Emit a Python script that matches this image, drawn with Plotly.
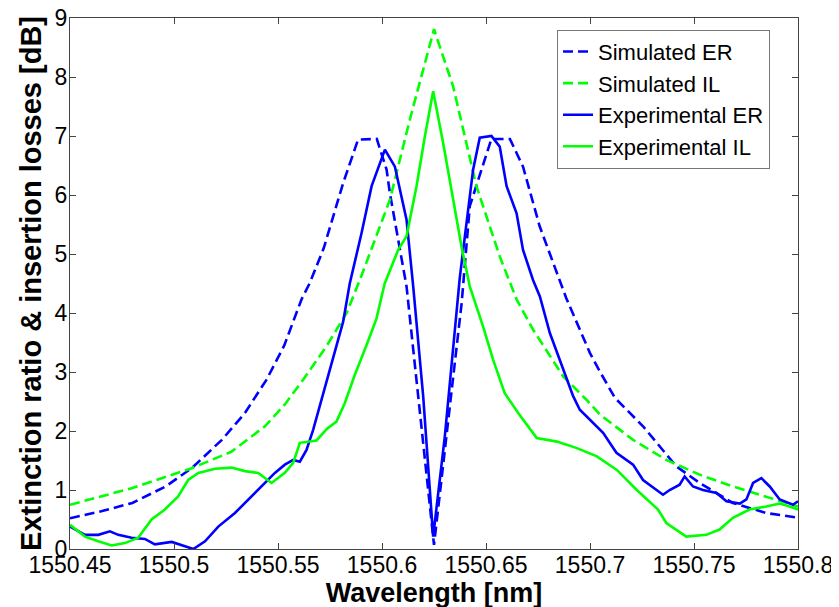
import plotly.graph_objects as go

# ---- Data (wavelength in nm, value in dB) ----
sim_er_x = [1550.450, 1550.465, 1550.480, 1550.496, 1550.5085, 1550.523, 1550.534, 1550.5445,
            1550.553, 1550.5613, 1550.5653, 1550.572, 1550.5813, 1550.5885, 1550.5975, 1550.6022,
            1550.6038, 1550.6118, 1550.625, 1550.6383, 1550.6422, 1550.647, 1550.6526, 1550.6615,
            1550.6678, 1550.6758, 1550.6886, 1550.700, 1550.7047, 1550.712, 1550.7255, 1550.7415,
            1550.7527, 1550.7687, 1550.7847, 1550.800]
sim_er_y = [0.52, 0.64, 0.78, 1.06, 1.37, 1.85, 2.30, 2.87,
            3.45, 4.23, 4.51, 5.10, 6.20, 6.94, 6.95, 6.43,
            6.03, 4.45, 0.07, 4.17, 5.81, 6.32, 6.95, 6.95,
            6.48, 5.47, 4.25, 3.32, 3.01, 2.56, 2.08, 1.40,
            1.12, 0.78, 0.61, 0.53]

sim_il_x = [1550.450, 1550.4796, 1550.5085, 1550.5277, 1550.5437, 1550.5533, 1550.5621, 1550.573,
            1550.583, 1550.5877, 1550.590, 1550.6038, 1550.6134, 1550.625, 1550.6342, 1550.6454,
            1550.6566, 1550.6647, 1550.6726, 1550.687, 1550.6983, 1550.7047, 1550.7207, 1550.7367,
            1550.7527, 1550.7687, 1550.7847, 1550.800]
sim_il_y = [0.75, 1.03, 1.37, 1.65, 2.08, 2.45, 2.87, 3.42,
            4.00, 4.40, 4.62, 5.92, 7.28, 8.81, 7.84, 6.15,
            4.96, 4.23, 3.72, 2.93, 2.53, 2.28, 1.85, 1.51,
            1.26, 1.06, 0.89, 0.72]

exp_er_x = [1550.4500, 1550.4572, 1550.4636, 1550.4692, 1550.4732, 1550.4796, 1550.4860, 1550.4908,
            1550.4989, 1550.5037, 1550.5093, 1550.5149, 1550.5213, 1550.5293, 1550.5373, 1550.5437,
            1550.5485, 1550.5533, 1550.5573, 1550.5605, 1550.5637, 1550.5669, 1550.5701, 1550.5758,
            1550.5813, 1550.5845, 1550.5902, 1550.5950, 1550.6014, 1550.6062, 1550.6118, 1550.6150,
            1550.6198, 1550.6246, 1550.6302, 1550.6374, 1550.6438, 1550.6470, 1550.6526, 1550.6566,
            1550.6599, 1550.6647, 1550.6678, 1550.6726, 1550.6759, 1550.6807, 1550.6855, 1550.6919,
            1550.6951, 1550.7063, 1550.7127, 1550.7175, 1550.7207, 1550.7255, 1550.7319, 1550.7351,
            1550.7383, 1550.7431, 1550.7455, 1550.7495, 1550.7543, 1550.7608, 1550.7656, 1550.7720,
            1550.7752, 1550.7784, 1550.7824, 1550.7864, 1550.7912, 1550.7976, 1550.8000]
exp_er_y = [0.38, 0.24, 0.24, 0.30, 0.24, 0.19, 0.17, 0.08,
            0.12, 0.07, 0.00, 0.13, 0.38, 0.61, 0.89, 1.12,
            1.29, 1.43, 1.51, 1.48, 1.68, 2.02, 2.42, 3.15,
            3.85, 4.50, 5.36, 6.15, 6.77, 6.48, 5.58, 4.45,
            2.59, 0.21, 1.91, 4.60, 6.43, 6.97, 7.00, 6.82,
            6.15, 5.69, 5.07, 4.56, 4.28, 3.66, 3.21, 2.59,
            2.36, 1.97, 1.63, 1.51, 1.43, 1.17, 1.00, 0.92,
            1.00, 1.09, 1.23, 1.06, 1.00, 0.95, 0.81, 0.77,
            0.84, 1.12, 1.20, 1.06, 0.84, 0.75, 0.81]

exp_il_x = [1550.4500, 1550.4572, 1550.4636, 1550.4700, 1550.4764, 1550.4828, 1550.4892, 1550.4956,
            1550.5020, 1550.5068, 1550.5117, 1550.5197, 1550.5277, 1550.5341, 1550.5405, 1550.5469,
            1550.5533, 1550.5573, 1550.5605, 1550.5685, 1550.5736, 1550.5781, 1550.5821, 1550.5869,
            1550.5925, 1550.5973, 1550.6013, 1550.6078, 1550.6118, 1550.6166, 1550.6206, 1550.6246,
            1550.6294, 1550.6342, 1550.6382, 1550.6422, 1550.6486, 1550.6534, 1550.6590, 1550.6654,
            1550.6744, 1550.6841, 1550.6937, 1550.7033, 1550.7129, 1550.7225, 1550.7327, 1550.7367,
            1550.7463, 1550.7559, 1550.7623, 1550.7687, 1550.7767, 1550.7847, 1550.7912, 1550.7960,
            1550.8000]
exp_il_y = [0.41, 0.21, 0.13, 0.06, 0.10, 0.19, 0.50, 0.67,
            0.89, 1.17, 1.29, 1.36, 1.38, 1.32, 1.29, 1.12,
            1.29, 1.46, 1.80, 1.84, 2.04, 2.16, 2.47, 2.95,
            3.45, 3.90, 4.50, 5.07, 5.30, 6.15, 6.99, 7.76,
            6.88, 5.92, 5.13, 4.45, 3.77, 3.21, 2.64, 2.31,
            1.88, 1.82, 1.71, 1.57, 1.34, 1.00, 0.67, 0.44,
            0.21, 0.24, 0.33, 0.53, 0.67, 0.72, 0.77, 0.72,
            0.67]

x_tick_vals = [1550.45, 1550.5, 1550.55, 1550.6, 1550.65, 1550.7, 1550.75, 1550.8]
x_tick_text = ["1550.45", "1550.5", "1550.55", "1550.6", "1550.65", "1550.7", "1550.75", "1550.8"]
y_tick_vals = [0, 1, 2, 3, 4, 5, 6, 7, 8, 9]

BLUE = "#0000FF"
GREEN = "#00FF00"
DASH = "10px,5px"
FONT = "Liberation Sans, Arial, sans-serif"

fig = go.Figure()
fig.add_trace(go.Scatter(x=sim_er_x, y=sim_er_y, mode="lines", name="Simulated ER",
                         line=dict(color=BLUE, width=2.6, dash=DASH)))
fig.add_trace(go.Scatter(x=sim_il_x, y=sim_il_y, mode="lines", name="Simulated IL",
                         line=dict(color=GREEN, width=2.6, dash=DASH)))
fig.add_trace(go.Scatter(x=exp_er_x, y=exp_er_y, mode="lines", name="Experimental ER",
                         line=dict(color=BLUE, width=2.6)))
fig.add_trace(go.Scatter(x=exp_il_x, y=exp_il_y, mode="lines", name="Experimental IL",
                         line=dict(color=GREEN, width=2.6)))

axis_common = dict(showgrid=False, zeroline=False, showline=True, linecolor="#444444",
                   linewidth=1, mirror="ticks", ticks="inside", ticklen=6, tickcolor="#444444",
                   automargin=False, ticklabeloverflow="allow",
                   tickfont=dict(family=FONT, size=23, color="black"))

# page body adds an 8px offset, margins compensate for it
fig.update_layout(
    width=839, height=607,
    margin=dict(l=62, r=49, t=10, b=66, autoexpand=False),
    paper_bgcolor="white", plot_bgcolor="white",
    font=dict(family=FONT, color="black"),
    showlegend=True,
    legend=dict(x=0.669, y=0.978, xanchor="left", yanchor="top",
                bgcolor="white", bordercolor="#777777", borderwidth=1,
                font=dict(size=22, color="black"), tracegroupgap=0,
                itemwidth=30),
    xaxis=dict(range=[1550.45, 1550.8], tickvals=x_tick_vals, ticktext=x_tick_text,
               ticklabelstandoff=-5,
               title=dict(text="<b>Wavelength [nm]</b>", standoff=0,
                          font=dict(size=27, family=FONT)),
               **axis_common),
    yaxis=dict(range=[0, 9], tickvals=y_tick_vals, ticklabelstandoff=-3,
               title=dict(text="<b>Extinction ratio & insertion losses [dB]</b>", standoff=4,
                          font=dict(size=29, family=FONT)),
               **axis_common),
)

fig.write_html("out.html")
